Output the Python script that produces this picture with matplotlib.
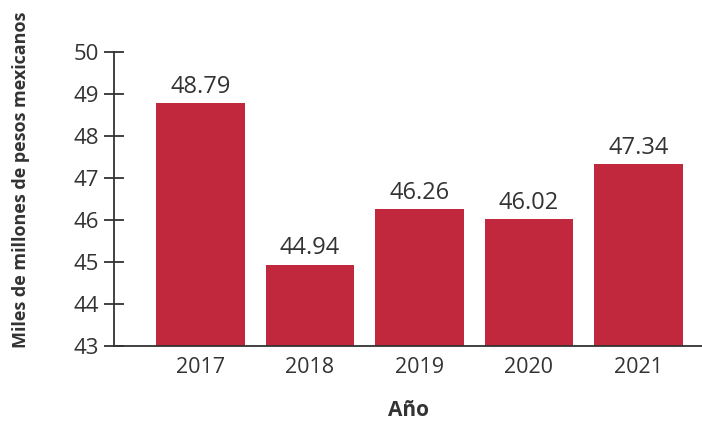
import matplotlib
matplotlib.use("Agg")
import matplotlib.pyplot as plt

years = ["2017", "2018", "2019", "2020", "2021"]
values = [48.79, 44.94, 46.26, 46.02, 47.34]
yticks = [43, 44, 45, 46, 47, 48, 49, 50]

plt.rcParams['font.family'] = ['Open Sans', 'DejaVu Sans']
text_color = "#333333"
bar_color = "#C1283D"

fig = plt.figure(figsize=(7.02, 4.24), dpi=100)
ax = fig.add_axes([0.1624, 0.184, 0.8376, 0.693])

x = list(range(len(years)))
ax.bar(x, [v - 43 for v in values], bottom=43, width=0.81, color=bar_color, zorder=2)

for xi, v in zip(x, values):
    ax.annotate(f"{v:.2f}", xy=(xi, v), xytext=(0, 3), textcoords="offset points",
                ha="center", va="bottom", fontsize=17, color=text_color)

ax.set_ylim(43, 50)
ax.set_xlim(-0.79, 4.58)
ax.set_yticks(yticks)
ax.set_yticklabels([str(t) for t in yticks])
ax.set_xticks(x)
ax.set_xticklabels(years)

for s in ["top", "right"]:
    ax.spines[s].set_visible(False)
for s in ["left", "bottom"]:
    ax.spines[s].set_color("#333333")
    ax.spines[s].set_linewidth(1.3)

ax.tick_params(axis="y", direction="inout", length=14, width=1.3, color="#333333",
               labelsize=16, labelcolor=text_color, pad=4)
ax.tick_params(axis="x", length=0, labelsize=15.5, labelcolor=text_color, pad=8)

ax.set_ylabel("Miles de millones de pesos mexicanos", fontsize=13, fontweight="bold",
              color=text_color)
ax.yaxis.set_label_coords(-0.143, 0.565)
ax.set_xlabel("Año", fontsize=15, fontweight="bold", color=text_color, labelpad=16)

fig.savefig("out.png", dpi=100)
